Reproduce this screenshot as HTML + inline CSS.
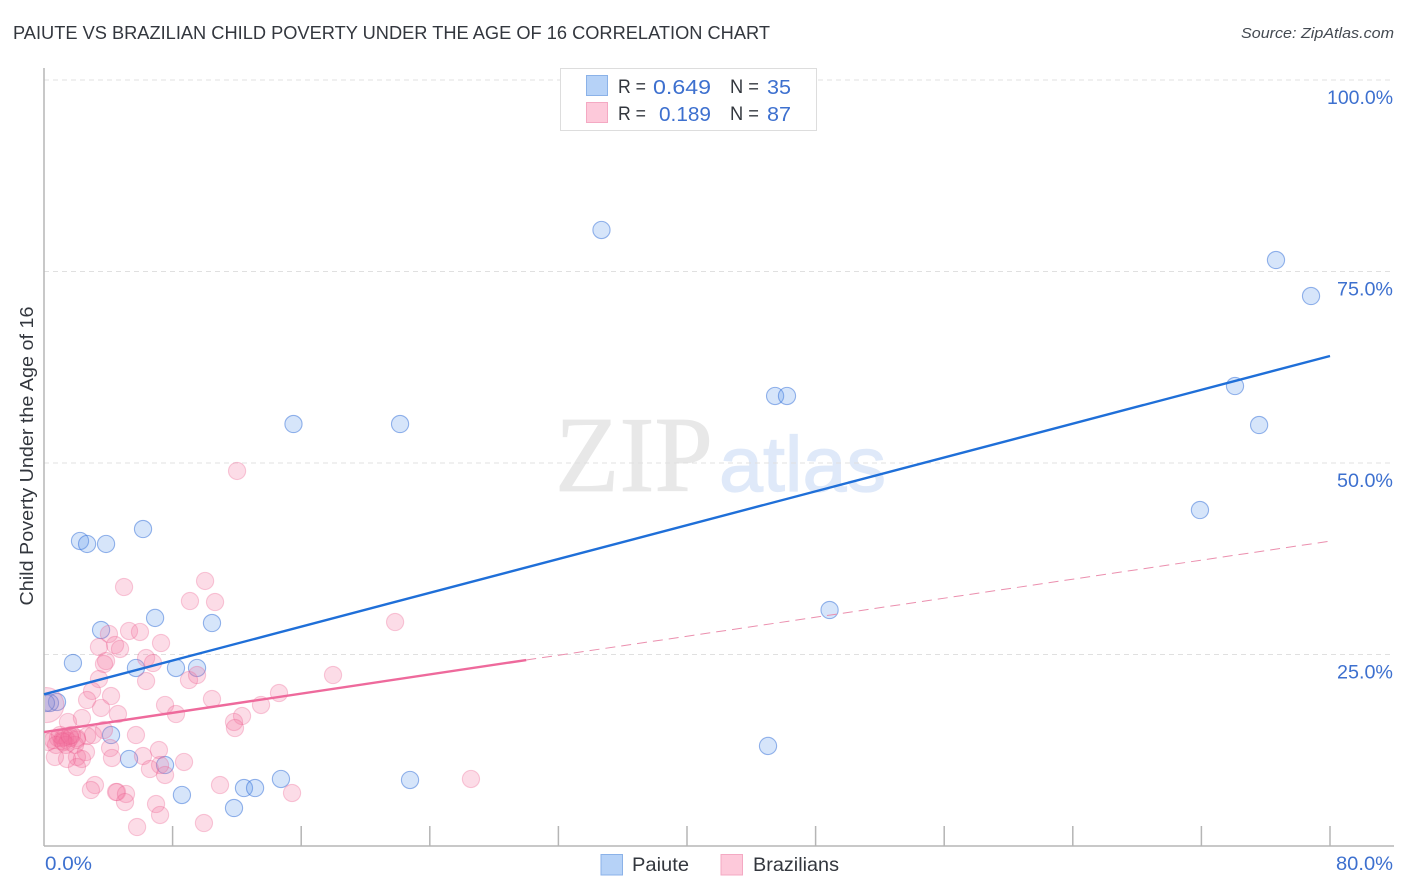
<!DOCTYPE html>
<html lang="en">
<head>
<meta charset="utf-8">
<title>Paiute vs Brazilian Child Poverty Correlation Chart</title>
<style>
html,body{margin:0;padding:0;background:#fff;}
svg{display:block;font-family:"Liberation Sans",sans-serif;}
</style>
</head>
<body>
<svg id="chart" xmlns="http://www.w3.org/2000/svg" width="1406" height="892" viewBox="0 0 1406 892">
  <defs>
    <clipPath id="plot-clip"><rect x="45" y="60" width="1349" height="786"/></clipPath>
  </defs>
  <rect x="0" y="0" width="1406" height="892" fill="#ffffff"/>
  <text x="13" y="39" font-size="18.5" fill="#33373e" textLength="757" lengthAdjust="spacingAndGlyphs">PAIUTE VS BRAZILIAN CHILD POVERTY UNDER THE AGE OF 16 CORRELATION CHART</text>
  <text x="1394" y="38" font-size="15" font-style="italic" fill="#444a52" text-anchor="end" textLength="153" lengthAdjust="spacingAndGlyphs">Source: ZipAtlas.com</text>
  <g>
    <text x="555" y="491" font-family="'Liberation Serif',serif" font-size="108" fill="#e8e8e8" stroke="#e8e8e8" stroke-width="0.8" textLength="158" lengthAdjust="spacingAndGlyphs">ZIP</text>
    <text x="719" y="491" font-size="78" fill="#dfe9f9" stroke="#dfe9f9" stroke-width="1.2" textLength="167" lengthAdjust="spacingAndGlyphs">atlas</text>
  </g>
  <g id="grid"></g>
  <g id="axes">
    <line x1="44" y1="68" x2="44" y2="846" stroke="#b5b5b5" stroke-width="1.5"/>
    <line x1="44" y1="846" x2="1394" y2="846" stroke="#b5b5b5" stroke-width="1.5"/>
  </g>
  <g id="x-ticks"></g>
  <g id="y-labels"></g>
  <g id="x-labels"></g>
  <text transform="translate(33,456) rotate(-90)" font-size="18.5" fill="#33373e" text-anchor="middle" textLength="299" lengthAdjust="spacingAndGlyphs">Child Poverty Under the Age of 16</text>
  <g id="points-paiute" clip-path="url(#plot-clip)"></g>
  <g id="points-brazilians" clip-path="url(#plot-clip)"></g>
  <g id="trends"></g>

  <g>
    <rect x="560.5" y="68.5" width="256" height="62" fill="#ffffff" stroke="#dddddd" stroke-width="1"/>
    <rect x="586.5" y="75.5" width="21" height="20" fill="#b6d2f7" stroke="#8bb2e8"/>
    <text x="618" y="93" font-size="19" fill="#33373e" textLength="28" lengthAdjust="spacingAndGlyphs">R =</text>
    <text x="653" y="94" font-size="20.5" fill="#3d70cf" textLength="58" lengthAdjust="spacingAndGlyphs">0.649</text>
    <text x="730" y="93" font-size="19" fill="#33373e" textLength="29" lengthAdjust="spacingAndGlyphs">N =</text>
    <text x="767" y="94" font-size="20.5" fill="#3d70cf" textLength="24" lengthAdjust="spacingAndGlyphs">35</text>
    <rect x="586.5" y="102.5" width="21" height="20" fill="#fdc9da" stroke="#f4a9c3"/>
    <text x="618" y="120" font-size="19" fill="#33373e" textLength="28" lengthAdjust="spacingAndGlyphs">R =</text>
    <text x="659" y="121" font-size="20.5" fill="#3d70cf" textLength="52" lengthAdjust="spacingAndGlyphs">0.189</text>
    <text x="730" y="120" font-size="19" fill="#33373e" textLength="29" lengthAdjust="spacingAndGlyphs">N =</text>
    <text x="767" y="121" font-size="20.5" fill="#3d70cf" textLength="24" lengthAdjust="spacingAndGlyphs">87</text>
  </g>

  <g>
    <g>
      <rect x="601" y="854.5" width="21.5" height="20.5" fill="#b6d2f7" stroke="#8bb2e8"/>
      <text x="632" y="871" font-size="19.5" fill="#33373e" textLength="57" lengthAdjust="spacingAndGlyphs">Paiute</text>
    </g>
    <g>
      <rect x="721" y="854.5" width="21.5" height="20.5" fill="#fdc9da" stroke="#f4a9c3"/>
      <text x="753" y="871" font-size="19.5" fill="#33373e" textLength="86" lengthAdjust="spacingAndGlyphs">Brazilians</text>
    </g>
  </g>
</svg>

<script>
var yGridValues = [25, 50, 75, 100];
var yTickLabels = ["25.0%", "50.0%", "75.0%", "100.0%"];
var xTickValues = [8, 16, 24, 32, 40, 48, 56, 64, 72, 80];
var xEndValues = [0, 80];
var xEndLabels = ["0.0%", "80.0%"];

var paiuteX = [34.68,76.64,78.82,74.09,45.48,46.22,15.52,22.15,75.59,71.91,6.16,2.24,2.68,3.86,48.87,6.91,10.45,3.55,1.80,5.72,8.21,9.52,0.81,0.37,0.12,4.17,45.04,5.29,7.53,14.74,22.77,12.44,13.13,8.58,11.82];
var paiuteY = [80.42,76.50,71.80,60.05,58.75,58.75,55.09,55.09,54.96,43.86,41.38,39.82,39.43,39.43,30.81,29.77,29.11,28.20,23.89,23.24,23.24,23.24,18.80,18.67,18.67,14.49,13.06,11.36,10.57,8.75,8.62,7.57,7.57,6.66,4.96];

var brazilX = [4.98,10.02,9.08,10.64,4.04,5.29,5.97,7.28,3.42,4.42,4.73,3.86,3.73,6.35,6.78,3.42,6.35,9.02,9.52,17.98,2.99,4.17,2.68,3.55,7.53,8.21,10.45,13.50,14.62,12.32,11.82,11.88,4.60,2.36,1.49,5.72,3.73,3.05,2.68,2.05,1.62,1.18,0.87,0.56,0.25,1.31,1.12,1.49,1.00,1.74,0.75,1.37,1.93,4.11,4.23,2.61,2.05,2.36,1.43,0.68,2.05,6.16,7.15,6.59,7.53,7.22,8.71,10.95,15.43,3.17,2.92,4.54,4.48,5.10,5.04,6.97,7.22,5.79,9.95,26.56,12.01,21.84,2.05,1.20,1.60];
var brazilY = [33.81,34.60,31.98,31.85,27.68,28.07,27.94,26.50,25.98,26.24,25.72,24.15,23.76,24.54,23.89,21.80,21.54,21.67,22.32,22.32,20.24,19.58,19.06,18.02,18.41,17.23,19.19,18.41,19.97,16.97,16.19,15.40,17.23,16.71,16.19,14.49,15.14,14.49,14.36,14.10,14.10,14.10,14.10,13.84,13.58,14.23,13.71,13.71,14.49,14.49,13.19,13.19,13.19,12.79,11.49,12.27,11.62,11.36,11.36,11.62,10.31,11.75,12.53,10.05,9.27,10.57,10.97,7.96,6.92,7.96,7.31,7.05,7.05,6.79,5.74,5.48,4.05,2.48,3.00,8.75,48.96,29.24,13.90,13.60,14.40];

var brazilLargeX = [0.15];
var brazilLargeY = [18.4];

var paiuteTrendX = [0, 80];
var paiuteTrendY = [19.8, 63.97];
var brazilTrendX = [0, 30];
var brazilTrendY = [14.88, 24.28];
var brazilProjectionX = [30, 80];
var brazilProjectionY = [24.28, 39.8];

var SVG_NS = "http://www.w3.org/2000/svg";
function xScale(v) { return 44 + v * 1286 / 80; }
function yScale(v) { return 846 - v * 766 / 100; }
function make(tag, parentId, attrs) {
  var el = document.createElementNS(SVG_NS, tag);
  for (var k in attrs) { el.setAttribute(k, attrs[k]); }
  document.getElementById(parentId).appendChild(el);
  return el;
}

yGridValues.forEach(function (v, i) {
  var grid = make("line", "grid", {x1: 44, x2: 1394, y1: yScale(v), y2: yScale(v), stroke: "#e0e0e0", "stroke-width": 1, "stroke-dasharray": "5 4"});
  
  
  var label = make("text", "y-labels", {x: 1393, y: yScale(v) + 24, "font-size": 19.5, fill: "#3d70cf", "text-anchor": "end", textLength: yTickLabels[i].length === 6 ? 66 : 56, lengthAdjust: "spacingAndGlyphs"});
  
  
  label.textContent = yTickLabels[i];
});

xTickValues.forEach(function (v) {
  var tick = make("line", "x-ticks", {x1: xScale(v), x2: xScale(v), y1: 826, y2: 846, stroke: "#b5b5b5", "stroke-width": 1.5});
  
  
});

xEndValues.forEach(function (v, i) {
  var first = i === 0;
  var label = make("text", "x-labels", {x: first ? xScale(v) + 1 : xScale(v) + 63, y: 870, "font-size": 19.5, fill: "#3d70cf", "text-anchor": first ? "start" : "end", textLength: first ? 47 : 57, lengthAdjust: "spacingAndGlyphs"});
  
  
  label.textContent = xEndLabels[i];
});

paiuteX.forEach(function (v, i) {
  var dot = make("circle", "points-paiute", {cx: xScale(v), cy: yScale(paiuteY[i]), r: 8.6, fill: "rgba(90,150,235,0.25)", stroke: "rgba(50,110,215,0.5)", "stroke-width": 1.1});
  
  
});

brazilLargeX.forEach(function (v, i) {
  var dot = make("circle", "points-brazilians", {cx: xScale(v), cy: yScale(brazilLargeY[i]), r: 17.5, fill: "rgba(244,114,160,0.25)", stroke: "rgba(235,90,140,0.3)", "stroke-width": 1.1});
  
  
});

brazilX.forEach(function (v, i) {
  var dot = make("circle", "points-brazilians", {cx: xScale(v), cy: yScale(brazilY[i]), r: 8.6, fill: "rgba(244,114,160,0.25)", stroke: "rgba(235,90,140,0.3)", "stroke-width": 1.1});
  
  
});

var paiuteTrend = make("line", "trends", {x1: xScale(paiuteTrendX[0]), y1: yScale(paiuteTrendY[0]), x2: xScale(paiuteTrendX[1]), y2: yScale(paiuteTrendY[1]), stroke: "#1f6fd8", "stroke-width": 2.4});



var brazilTrend = make("line", "trends", {x1: xScale(brazilTrendX[0]), y1: yScale(brazilTrendY[0]), x2: xScale(brazilTrendX[1]), y2: yScale(brazilTrendY[1]), stroke: "#ee6a9c", "stroke-width": 2.4});



var brazilProjection = make("line", "trends", {x1: xScale(brazilProjectionX[0]), y1: yScale(brazilProjectionY[0]), x2: xScale(brazilProjectionX[1]), y2: yScale(brazilProjectionY[1]), stroke: "#eb8fae", "stroke-width": 1, "stroke-dasharray": "10 6"});


</script>
</body>
</html>
